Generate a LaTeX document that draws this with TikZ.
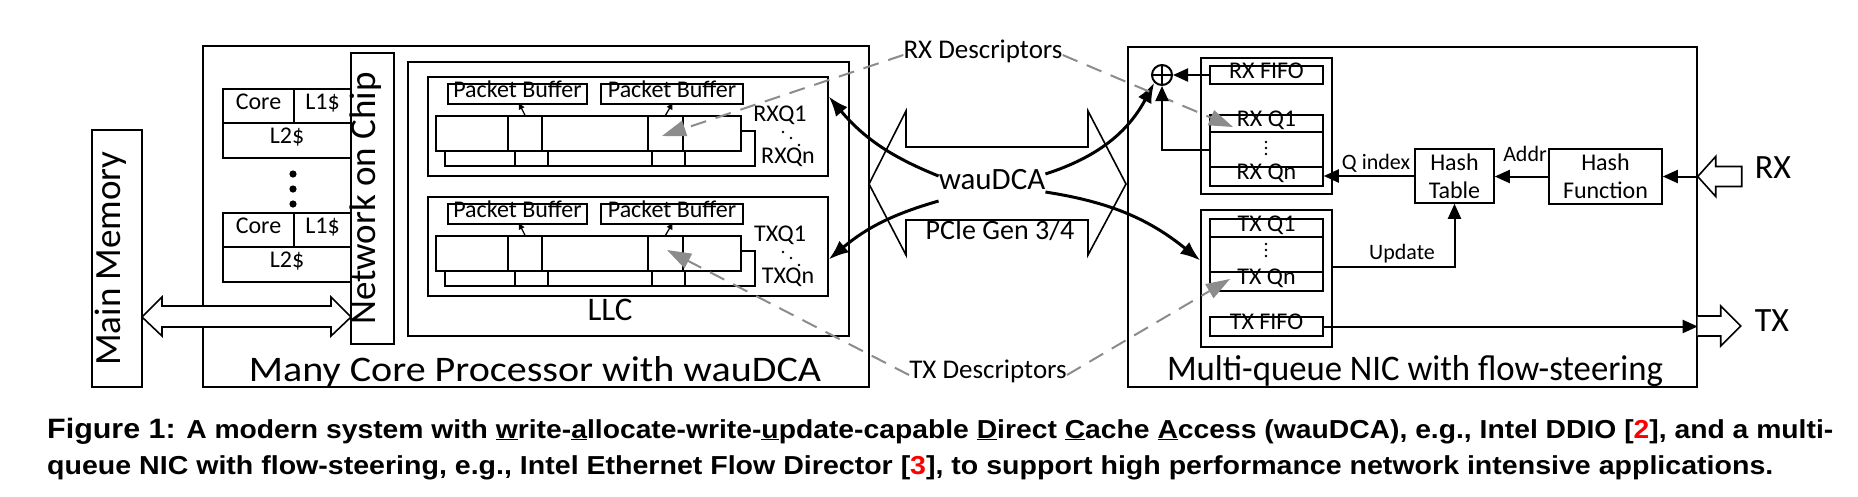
\documentclass[tikz,border=0pt]{standalone}
\usepackage{fontspec}
\setmainfont{Carlito}
\newfontfamily\capfont{Liberation Sans}
\usepackage{graphicx}
\usetikzlibrary{arrows.meta}
\newcommand\fBig{\fontsize{37}{40}\selectfont}
\newcommand\fLab{\fontsize{36}{40}\selectfont}
\newcommand\fMid{\fontsize{27}{30}\selectfont}
\newcommand\fSm{\fontsize{24}{27}\selectfont}
\newcommand\fTn{\fontsize{22}{24}\selectfont}
\newcommand\rbox[7][]{\node[box,#1,minimum width={((#5)-(#3))*1pt},minimum height={((#6)-(#4))*1pt}] (#2) at ({((#3)+(#5))/2},{((#4)+(#6))/2}) {#7};}
\newcommand\qgroup[4]{%
\rbox{#1g}{428}{(77+#2)}{828}{(176+#2)}{}
\rbox[tc,font=\fSm]{#1pa}{448}{(84+#2)}{587}{(104+#2)}{Packet Buffer}
\rbox[tc,font=\fSm]{#1pb}{601}{(84+#2)}{743}{(104+#2)}{Packet Buffer}
\rbox{#1b1}{445}{(131+#2)}{515}{(166+#2)}{}
\rbox{#1b2}{515}{(131+#2)}{548}{(166+#2)}{}
\rbox{#1b3}{548}{(131+#2)}{652}{(166+#2)}{}
\rbox{#1b4}{652}{(131+#2)}{685}{(166+#2)}{}
\rbox{#1b5}{685}{(131+#2)}{755}{(166+#2)}{}
\rbox{#1f1}{436}{(116+#2)}{508}{(151+#2)}{}
\rbox{#1f2}{508}{(116+#2)}{542}{(151+#2)}{}
\rbox{#1f3}{542}{(116+#2)}{648}{(151+#2)}{}
\rbox{#1f4}{648}{(116+#2)}{683}{(151+#2)}{}
\rbox{#1f5}{683}{(116+#2)}{741}{(151+#2)}{}
\draw[pb] (#1f2.north) -- ++(-6,-12);
\draw[pb] (#1f4.north) -- ++(7,-12);
\node[lbl,font=\fSm] (#1l1) at (780,{118+#2}) {#3};
\fill (783,{132+#2}) circle (1.4) (791,{138+#2}) circle (1.4) (799,{145+#2}) circle (1.4);
\node[lbl,font=\fSm] (#1ln) at (788,{160+#2}) {#4};
}
\begin{document}
\begin{tikzpicture}[x=1pt,y=-1pt,
  box/.style={draw,line width=1.5pt,fill=white,inner sep=0pt},
  tc/.style={text height=0.64em,text depth=0pt},
  lbl/.style={inner sep=0pt,text height=0.64em,text depth=0pt},
  fat/.style={draw,line width=1.6pt,fill=white,line join=miter},
  curv/.style={line width=3pt,-{Latex[length=20pt,width=15pt]}},
  gd/.style={draw=black!45,line width=2pt,dash pattern=on 16pt off 10pt,-{Triangle[length=24pt,width=16pt,fill=black!45]}},
  na/.style={line width=2pt,-{Triangle[length=15pt,width=13pt]}},
  pb/.style={line width=1.3pt,-{Triangle[length=6pt,width=6pt]}}]
\fill[white] (0,0) rectangle (1858,496);
\useasboundingbox (0,0) rectangle (1858,496);
% containers
\rbox[line width=1.4pt]{proc}{203}{46}{869}{387}{}
\rbox[line width=1.4pt]{nic}{1128}{47}{1697}{387}{}
\rbox{mm}{92}{130}{142}{387}{}
\node[lbl,rotate=90,font=\fBig] (mmt) at (mm.center) {Main Memory};
\node[inner sep=0pt,anchor=base] (proct) at (535,381) {\resizebox{572pt}{\height}{\fLab Many Core Processor with wauDCA}};
\node[inner sep=0pt,anchor=base] (nict) at (1415,380) {\resizebox{496pt}{\height}{\fLab Multi-queue NIC with flow-steering}};
% cores
\rbox[tc,font=\fSm]{c1}{223}{89}{294}{123}{Core}
\rbox[tc,font=\fSm]{l11}{294}{89}{351}{123}{L1\$}
\rbox[tc,font=\fSm]{l21}{223}{123}{351}{158}{L2\$}
\rbox[tc,font=\fSm]{c2}{223}{213}{294}{247}{Core}
\rbox[tc,font=\fSm]{l12}{294}{213}{351}{247}{L1\$}
\rbox[tc,font=\fSm]{l22}{223}{247}{351}{282}{L2\$}
\fill (293,174) circle (3.6) (293,189) circle (3.6) (293,204) circle (3.6);
% NoC
\rbox{noc}{351}{53}{394}{344}{}
\node[lbl,rotate=90,font=\fBig] (noct) at (noc.center) {Network on Chip};
% LLC
\rbox{llc}{408}{62}{849}{336}{}
\node[lbl,font=\fontsize{33}{36}\selectfont] (llct) at (610,317.5) {LLC};
\qgroup{rx}{0}{RXQ1}{RXQn}
\qgroup{tx}{120}{TXQ1}{TXQn}
\coordinate (rxa) at (662,136);
\coordinate (txa) at (667,250);
% memory double arrow
\draw[fat] (142,317) -- (162,297) -- (162,306) -- (331,306) -- (331,297) -- (351,317) -- (331,336) -- (331,327) -- (162,327) -- (162,336) -- cycle;
% PCIe fat arrow
\draw[fat] (869,184) -- (906,111) -- (906,147) -- (1088,147) -- (1088,111) -- (1126,184) -- (1088,255) -- (1088,220) -- (906,220) -- (906,255) -- cycle;
\node[lbl,font=\fontsize{31}{34}\selectfont] (w) at (992,186) {wauDCA};
\node[lbl,font=\fontsize{28}{30}\selectfont] (pcie) at (1000,236) {PCIe Gen 3/4};
\node[lbl,font=\fMid] (rxd) at (983,55) {RX Descriptors};
\node[lbl,font=\fMid] (txd) at (988,375) {TX Descriptors};
% NIC internals
\node[circle,draw,line width=2pt,minimum size=20pt,inner sep=0pt] (op) at (1162,75) {};
\draw[line width=2pt] (op.north) -- (op.south) (op.west) -- (op.east);
\rbox{rxo}{1201}{58}{1332}{194}{}
\rbox[tc,font=\fSm]{rxfifo}{1210}{66}{1323}{84}{RX FIFO}
\rbox[tc,font=\fSm]{rxq1}{1210}{115}{1323}{132}{RX Q1}
\rbox{rxmid}{1210}{132}{1323}{167}{}
\rbox[tc,font=\fSm]{rxqn}{1210}{167}{1323}{186}{RX Qn}
\fill (1266,142) circle (1.3) (1266,148) circle (1.3) (1266,154) circle (1.3);
\rbox{txo}{1201}{210}{1332}{347}{}
\rbox[tc,font=\fSm]{txq1}{1210}{219}{1323}{237}{TX Q1}
\rbox{txmid}{1210}{237}{1323}{272}{}
\rbox[tc,font=\fSm]{txqn}{1210}{272}{1323}{291}{TX Qn}
\fill (1266,244) circle (1.3) (1266,250) circle (1.3) (1266,256) circle (1.3);
\rbox[tc,font=\fSm]{txfifo}{1210}{317}{1323}{336}{TX FIFO}
\rbox[align=center,font=\fontsize{24}{28}\selectfont]{ht}{1415}{149}{1494}{203}{Hash\\Table}
\rbox[align=center,font=\fontsize{24}{28}\selectfont]{hf}{1549}{149}{1662}{204}{Hash\\Function}
\coordinate (rxq1t) at (1233,127);
\coordinate (txqnt) at (1230,279);
% curved wauDCA arrows
\draw[curv] ([yshift=10pt]w.west) to[bend left=14] ([yshift=30pt]rxg.east);
\draw[curv] ([yshift=-15pt]w.west) to[bend right=12] ([yshift=-13pt]txg.east);
\draw[curv] ([yshift=12pt]w.east) to[bend right=22] (op.225);
\draw[curv] ([yshift=-6pt]w.east) to[bend left=15] ([yshift=18pt]txo.west);
% descriptor pointers
\draw[gd] (rxd.west) -- (rxa);
\draw[gd] (rxd.east) -- (rxq1t);
\draw[gd] (txd.west) -- (txa);
\draw[gd] (txd.east) -- (txqnt);
% NIC connectors
\draw[na] (rxfifo.west) -- (op.east);
\draw[na] (rxmid.west) -| (op.south);
\draw[na] (ht.west) -- (ht.west -| rxqn.east);
\node[lbl,font=\fTn] (qi) at (1376,166) {Q index};
\draw[na] (hf.west) -- (hf.west -| ht.east);
\node[lbl,font=\fTn] (ad) at (1525,158.5) {Addr};
\coordinate (rxin) at (nic.east |- hf.east);
\draw[na] (rxin) -- (hf.east);
\coordinate (upd) at ([yshift=11.5pt]txo.east);
\draw[na] (upd) -| (ht.south);
\node[lbl,font=\fTn] (up) at (1402,256.5) {Update};
\coordinate (txout) at (nic.east |- txfifo.east);
\draw[na] (txfifo.east) -- (txout);
% hollow RX / TX arrows
\draw[fat] (rxin) -- ++(18,-20) -- ++(0,10) -- ++(26,0) -- ++(0,20) -- ++(-26,0) -- ++(0,10) -- cycle;
\draw[fat] ([yshift=10.5pt]txout) -- ++(23,0) -- ++(0,-10) -- ++(20,20) -- ++(-20,20) -- ++(0,-10) -- ++(-23,0);
\node[lbl,font=\fontsize{34}{36}\selectfont] (rxl) at (1773,175) {RX};
\node[lbl,font=\fontsize{34}{36}\selectfont] (txl) at (1772,328) {TX};
% caption
\node[anchor=base west,inner sep=0pt] (cap1) at (47,438) {\resizebox{1786pt}{\height}{\capfont\bfseries\fontsize{26}{28}\selectfont{\fontsize{28}{28}\selectfont Figure 1:} A modern system with \underline{w}rite-\underline{a}llocate-write-\underline{u}pdate-capable \underline{D}irect \underline{C}ache \underline{A}ccess (wauDCA), e.g., Intel DDIO [{\color{red}2}], and a multi-}};
\node[anchor=base west,inner sep=0pt] (cap2) at (47,474) {\resizebox{1726pt}{\height}{\capfont\bfseries\fontsize{26}{28}\selectfont queue NIC with flow-steering, e.g., Intel Ethernet Flow Director [{\color{red}3}], to support high performance network intensive applications.}};
\end{tikzpicture}
\end{document}
